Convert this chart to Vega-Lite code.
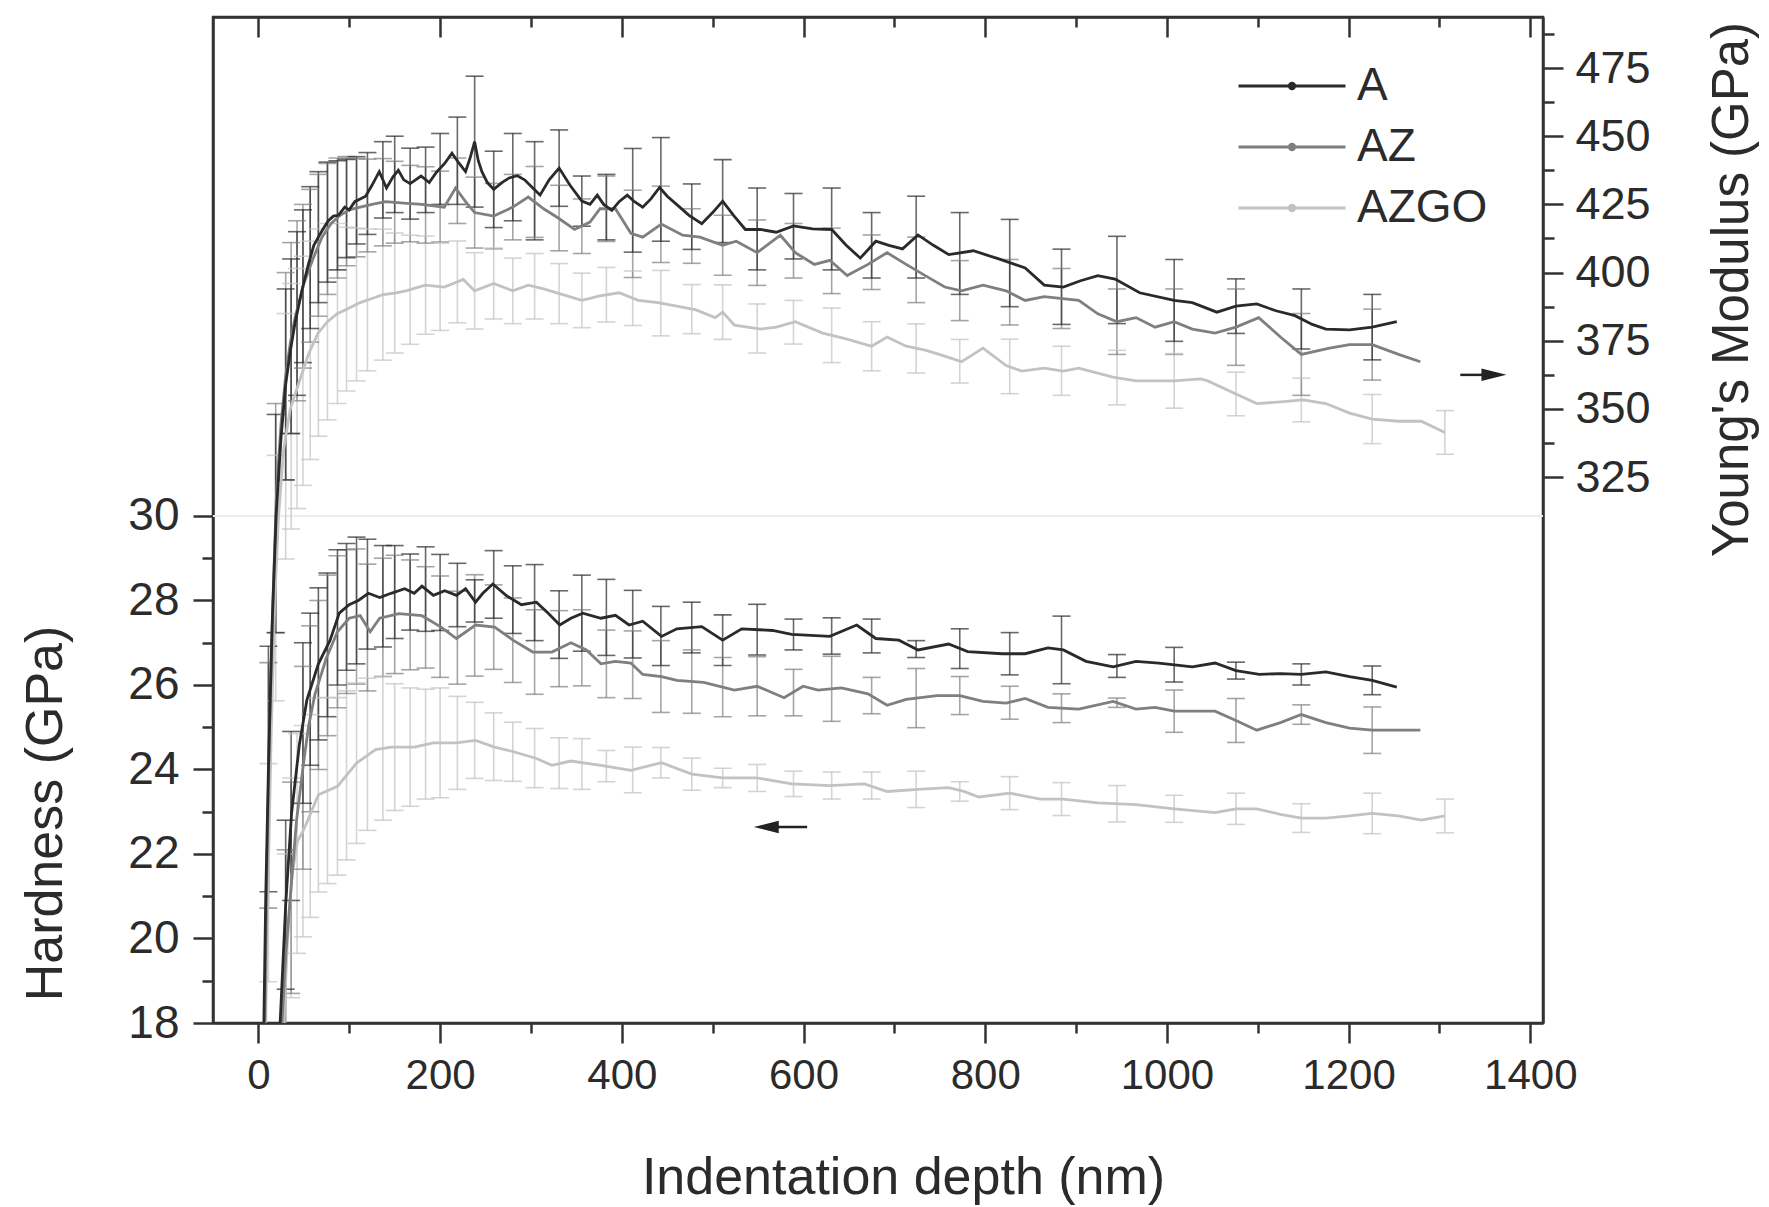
{
 "$schema": "https://vega.github.io/schema/vega-lite/v6.json",
 "width": 1330, "height": 1006,
 "autosize": "none",
 "padding": {"left": 213, "top": 17, "right": 226, "bottom": 184},
 "background": "white",
 "config": {
  "view": {"stroke": "#333333", "strokeWidth": 2.5},
  "axis": {"labelFont": "Liberation Sans", "titleFont": "Liberation Sans", "labelColor": "#2b2b2b", "titleColor": "#2b2b2b", "titleFontWeight": "normal", "domainColor": "#333333", "tickColor": "#333333", "domainWidth": 2.5, "tickWidth": 2.5, "grid": false, "labelOverlap": false, "labelFlush": false, "labelBound": false, "labelFontSize": 42, "titleFontSize": 52},
  "legend": {"orient": "none", "legendX": 1013, "legendY": 46, "title": null, "labelFontSize": 46, "labelFont": "Liberation Sans", "labelColor": "#2b2b2b", "symbolType": "M-5,0H5M-0.25,0A0.25,0.25 0 1,0 0.25,0A0.25,0.25 0 1,0 -0.25,0", "symbolSize": 458, "symbolStrokeWidth": 3, "symbolOpacity": 1, "symbolOffset": 43, "labelOffset": 42, "rowPadding": 15, "padding": 0}
 },
 "datasets": {
  "hard": [
   {"s":"AZGO","d":28,"v":18},{"s":"AZGO","d":32,"v":20.0},{"s":"AZGO","d":37,"v":21.5},{"s":"AZGO","d":43,"v":22.3},{"s":"AZGO","d":49,"v":22.54},{"s":"AZGO","d":53.4,"v":22.75},{"s":"AZGO","d":66,"v":23.4},{"s":"AZGO","d":87,"v":23.6},{"s":"AZGO","d":108,"v":24.15},{"s":"AZGO","d":129,"v":24.47},{"s":"AZGO","d":146,"v":24.53},{"s":"AZGO","d":171.5,"v":24.53},{"s":"AZGO","d":192.6,"v":24.63},{"s":"AZGO","d":218,"v":24.63},{"s":"AZGO","d":239,"v":24.69},{"s":"AZGO","d":260,"v":24.53},{"s":"AZGO","d":281,"v":24.42},{"s":"AZGO","d":306,"v":24.26},{"s":"AZGO","d":323,"v":24.1},{"s":"AZGO","d":344,"v":24.2},{"s":"AZGO","d":377,"v":24.1},{"s":"AZGO","d":410,"v":23.98},{"s":"AZGO","d":443.7,"v":24.16},{"s":"AZGO","d":477,"v":23.89},{"s":"AZGO","d":511,"v":23.8},{"s":"AZGO","d":549,"v":23.8},{"s":"AZGO","d":587,"v":23.66},{"s":"AZGO","d":629,"v":23.62},{"s":"AZGO","d":667,"v":23.66},{"s":"AZGO","d":692,"v":23.48},{"s":"AZGO","d":726,"v":23.53},{"s":"AZGO","d":759.7,"v":23.57},{"s":"AZGO","d":776.6,"v":23.48},{"s":"AZGO","d":793,"v":23.35},{"s":"AZGO","d":827,"v":23.44},{"s":"AZGO","d":861,"v":23.3},{"s":"AZGO","d":886,"v":23.3},{"s":"AZGO","d":924,"v":23.21},{"s":"AZGO","d":966,"v":23.17},{"s":"AZGO","d":1008,"v":23.07},{"s":"AZGO","d":1053,"v":22.98},{"s":"AZGO","d":1076,"v":23.07},{"s":"AZGO","d":1099,"v":23.07},{"s":"AZGO","d":1125,"v":22.94},{"s":"AZGO","d":1148,"v":22.85},{"s":"AZGO","d":1175,"v":22.85},{"s":"AZGO","d":1201,"v":22.9},{"s":"AZGO","d":1226,"v":22.96},{"s":"AZGO","d":1255,"v":22.9},{"s":"AZGO","d":1280,"v":22.8},{"s":"AZGO","d":1306,"v":22.9},
   {"s":"AZ","d":26,"v":18},{"s":"AZ","d":30,"v":19.6},{"s":"AZ","d":36.5,"v":21.36},{"s":"AZ","d":42,"v":22.8},{"s":"AZ","d":49,"v":24.04},{"s":"AZ","d":55,"v":25.0},{"s":"AZ","d":62,"v":25.76},{"s":"AZ","d":74.5,"v":26.62},{"s":"AZ","d":87,"v":27.26},{"s":"AZ","d":99.8,"v":27.58},{"s":"AZ","d":112,"v":27.64},{"s":"AZ","d":123,"v":27.26},{"s":"AZ","d":133.5,"v":27.58},{"s":"AZ","d":154.6,"v":27.69},{"s":"AZ","d":180,"v":27.64},{"s":"AZ","d":201,"v":27.37},{"s":"AZ","d":218,"v":27.1},{"s":"AZ","d":239,"v":27.42},{"s":"AZ","d":260,"v":27.37},{"s":"AZ","d":281,"v":27.05},{"s":"AZ","d":302,"v":26.78},{"s":"AZ","d":323,"v":26.78},{"s":"AZ","d":344,"v":27.0},{"s":"AZ","d":361,"v":26.83},{"s":"AZ","d":377,"v":26.5},{"s":"AZ","d":393,"v":26.56},{"s":"AZ","d":410,"v":26.52},{"s":"AZ","d":423,"v":26.25},{"s":"AZ","d":443.7,"v":26.2},{"s":"AZ","d":460.6,"v":26.11},{"s":"AZ","d":490,"v":26.06},{"s":"AZ","d":524,"v":25.88},{"s":"AZ","d":549,"v":25.97},{"s":"AZ","d":578.6,"v":25.7},{"s":"AZ","d":599.6,"v":25.97},{"s":"AZ","d":616,"v":25.88},{"s":"AZ","d":641.7,"v":25.93},{"s":"AZ","d":671,"v":25.79},{"s":"AZ","d":692,"v":25.52},{"s":"AZ","d":713,"v":25.66},{"s":"AZ","d":747,"v":25.75},{"s":"AZ","d":772,"v":25.75},{"s":"AZ","d":797.6,"v":25.61},{"s":"AZ","d":823,"v":25.57},{"s":"AZ","d":844,"v":25.68},{"s":"AZ","d":869,"v":25.47},{"s":"AZ","d":903,"v":25.43},{"s":"AZ","d":940.8,"v":25.61},{"s":"AZ","d":966,"v":25.43},{"s":"AZ","d":987,"v":25.47},{"s":"AZ","d":1008,"v":25.38},{"s":"AZ","d":1053,"v":25.38},{"s":"AZ","d":1076,"v":25.16},{"s":"AZ","d":1099,"v":24.93},{"s":"AZ","d":1125,"v":25.11},{"s":"AZ","d":1148,"v":25.3},{"s":"AZ","d":1175,"v":25.11},{"s":"AZ","d":1201,"v":24.98},{"s":"AZ","d":1226,"v":24.93},{"s":"AZ","d":1255,"v":24.93},{"s":"AZ","d":1279,"v":24.93},
   {"s":"A","d":23.9,"v":18},{"s":"A","d":30,"v":20.8},{"s":"A","d":36.5,"v":22.97},{"s":"A","d":45,"v":24.58},{"s":"A","d":53.4,"v":25.65},{"s":"A","d":66,"v":26.5},{"s":"A","d":78.7,"v":27.05},{"s":"A","d":89,"v":27.7},{"s":"A","d":99.8,"v":27.9},{"s":"A","d":110,"v":28.0},{"s":"A","d":121,"v":28.17},{"s":"A","d":133.5,"v":28.07},{"s":"A","d":146,"v":28.17},{"s":"A","d":161,"v":28.28},{"s":"A","d":171.5,"v":28.17},{"s":"A","d":180,"v":28.34},{"s":"A","d":192.6,"v":28.12},{"s":"A","d":205,"v":28.23},{"s":"A","d":218,"v":28.12},{"s":"A","d":228,"v":28.28},{"s":"A","d":239,"v":27.96},{"s":"A","d":247,"v":28.17},{"s":"A","d":258,"v":28.39},{"s":"A","d":272.6,"v":28.12},{"s":"A","d":289.5,"v":27.9},{"s":"A","d":306,"v":27.96},{"s":"A","d":319,"v":27.7},{"s":"A","d":331.7,"v":27.42},{"s":"A","d":344,"v":27.58},{"s":"A","d":357,"v":27.7},{"s":"A","d":377,"v":27.58},{"s":"A","d":393,"v":27.65},{"s":"A","d":408,"v":27.42},{"s":"A","d":423,"v":27.51},{"s":"A","d":443.7,"v":27.15},{"s":"A","d":460.6,"v":27.33},{"s":"A","d":488,"v":27.38},{"s":"A","d":511,"v":27.06},{"s":"A","d":532,"v":27.33},{"s":"A","d":566,"v":27.29},{"s":"A","d":587,"v":27.2},{"s":"A","d":629,"v":27.15},{"s":"A","d":658.6,"v":27.42},{"s":"A","d":679.6,"v":27.1},{"s":"A","d":705,"v":27.06},{"s":"A","d":726,"v":26.83},{"s":"A","d":759.7,"v":26.97},{"s":"A","d":780.7,"v":26.79},{"s":"A","d":818.6,"v":26.74},{"s":"A","d":844,"v":26.74},{"s":"A","d":869,"v":26.88},{"s":"A","d":886,"v":26.83},{"s":"A","d":911,"v":26.56},{"s":"A","d":940.8,"v":26.43},{"s":"A","d":966,"v":26.56},{"s":"A","d":991,"v":26.52},{"s":"A","d":1028,"v":26.43},{"s":"A","d":1053,"v":26.52},{"s":"A","d":1076,"v":26.34},{"s":"A","d":1101.7,"v":26.25},{"s":"A","d":1125,"v":26.27},{"s":"A","d":1148,"v":26.25},{"s":"A","d":1175,"v":26.31},{"s":"A","d":1201,"v":26.2},{"s":"A","d":1226,"v":26.11},{"s":"A","d":1253,"v":25.95}
  ],
  "mod": [
   {"s":"AZGO","d":8,"v":125},{"s":"AZGO","d":10,"v":165},{"s":"AZGO","d":14,"v":230},{"s":"AZGO","d":18,"v":280},{"s":"AZGO","d":22,"v":310},{"s":"AZGO","d":27.7,"v":335},{"s":"AZGO","d":35,"v":350},{"s":"AZGO","d":44.6,"v":359.6},{"s":"AZGO","d":55,"v":370},{"s":"AZGO","d":65.6,"v":377.8},{"s":"AZGO","d":76,"v":382},{"s":"AZGO","d":86.7,"v":384.9},{"s":"AZGO","d":100,"v":387},{"s":"AZGO","d":112,"v":389},{"s":"AZGO","d":125,"v":390.5},{"s":"AZGO","d":137,"v":391.9},{"s":"AZGO","d":150,"v":392.5},{"s":"AZGO","d":162.5,"v":393.3},{"s":"AZGO","d":183.6,"v":395.4},{"s":"AZGO","d":204.5,"v":394.7},{"s":"AZGO","d":225.6,"v":397.5},{"s":"AZGO","d":238,"v":393.3},{"s":"AZGO","d":259,"v":396},{"s":"AZGO","d":280,"v":393.3},{"s":"AZGO","d":297,"v":395.4},{"s":"AZGO","d":314,"v":394},{"s":"AZGO","d":335,"v":391.9},{"s":"AZGO","d":356,"v":389.8},{"s":"AZGO","d":376,"v":391.5},{"s":"AZGO","d":397,"v":392.6},{"s":"AZGO","d":418,"v":389.8},{"s":"AZGO","d":439.6,"v":389},{"s":"AZGO","d":460.6,"v":387.7},{"s":"AZGO","d":481.7,"v":386.3},{"s":"AZGO","d":502.7,"v":383.5},{"s":"AZGO","d":511,"v":385.5},{"s":"AZGO","d":524,"v":380.7},{"s":"AZGO","d":553,"v":379.3},{"s":"AZGO","d":570,"v":380},{"s":"AZGO","d":591,"v":382},{"s":"AZGO","d":621,"v":377.8},{"s":"AZGO","d":646,"v":375.8},{"s":"AZGO","d":675,"v":373},{"s":"AZGO","d":692,"v":376.4},{"s":"AZGO","d":713,"v":373},{"s":"AZGO","d":734,"v":371.6},{"s":"AZGO","d":755.5,"v":369.4},{"s":"AZGO","d":774,"v":367.3},{"s":"AZGO","d":797.6,"v":372.3},{"s":"AZGO","d":823,"v":365.9},{"s":"AZGO","d":840,"v":363.9},{"s":"AZGO","d":865,"v":365},{"s":"AZGO","d":886,"v":363.9},{"s":"AZGO","d":903,"v":365},{"s":"AZGO","d":940.6,"v":361.7},{"s":"AZGO","d":966,"v":360.3},{"s":"AZGO","d":1008,"v":360.3},{"s":"AZGO","d":1037,"v":361},{"s":"AZGO","d":1045,"v":360.3},{"s":"AZGO","d":1076,"v":355.5},{"s":"AZGO","d":1099,"v":352},{"s":"AZGO","d":1125,"v":352.6},{"s":"AZGO","d":1150,"v":353.3},{"s":"AZGO","d":1175,"v":352},{"s":"AZGO","d":1201,"v":348.5},{"s":"AZGO","d":1226,"v":346.3},{"s":"AZGO","d":1255,"v":345.5},{"s":"AZGO","d":1280,"v":345.5},{"s":"AZGO","d":1306,"v":341.4},
   {"s":"AZ","d":7,"v":125},{"s":"AZ","d":9,"v":175},{"s":"AZ","d":12,"v":230},{"s":"AZ","d":16,"v":280},{"s":"AZ","d":20,"v":320},{"s":"AZ","d":25,"v":345},{"s":"AZ","d":30,"v":362},{"s":"AZ","d":35,"v":374},{"s":"AZ","d":40,"v":383},{"s":"AZ","d":50,"v":396},{"s":"AZ","d":60,"v":405},{"s":"AZ","d":70,"v":413},{"s":"AZ","d":80,"v":418},{"s":"AZ","d":90,"v":421},{"s":"AZ","d":100,"v":423},{"s":"AZ","d":112,"v":424},{"s":"AZ","d":125,"v":425},{"s":"AZ","d":140,"v":426},{"s":"AZ","d":160,"v":425.5},{"s":"AZ","d":180,"v":425},{"s":"AZ","d":204.5,"v":424},{"s":"AZ","d":217,"v":431},{"s":"AZ","d":228,"v":426},{"s":"AZ","d":238,"v":422},{"s":"AZ","d":259,"v":420.7},{"s":"AZ","d":280,"v":424},{"s":"AZ","d":297,"v":427.7},{"s":"AZ","d":314,"v":423.4},{"s":"AZ","d":330,"v":420},{"s":"AZ","d":348,"v":415.8},{"s":"AZ","d":365,"v":418.5},{"s":"AZ","d":376,"v":423.4},{"s":"AZ","d":393,"v":423.4},{"s":"AZ","d":410,"v":414.4},{"s":"AZ","d":423,"v":413},{"s":"AZ","d":443.5,"v":417.8},{"s":"AZ","d":467,"v":413.7},{"s":"AZ","d":486,"v":413},{"s":"AZ","d":511,"v":410},{"s":"AZ","d":526,"v":411.5},{"s":"AZ","d":549,"v":407.3},{"s":"AZ","d":574.5,"v":413.7},{"s":"AZ","d":591,"v":407.3},{"s":"AZ","d":612,"v":403},{"s":"AZ","d":629,"v":404.5},{"s":"AZ","d":648,"v":398.9},{"s":"AZ","d":671,"v":403},{"s":"AZ","d":692,"v":407.3},{"s":"AZ","d":713,"v":403},{"s":"AZ","d":734,"v":398.9},{"s":"AZ","d":755.5,"v":394.7},{"s":"AZ","d":774,"v":393.3},{"s":"AZ","d":797.6,"v":395.4},{"s":"AZ","d":823,"v":393.3},{"s":"AZ","d":844,"v":389.8},{"s":"AZ","d":865,"v":391.2},{"s":"AZ","d":903,"v":389.8},{"s":"AZ","d":924,"v":384.9},{"s":"AZ","d":945,"v":382},{"s":"AZ","d":966,"v":383.5},{"s":"AZ","d":987,"v":380},{"s":"AZ","d":1008,"v":382},{"s":"AZ","d":1028,"v":379.3},{"s":"AZ","d":1053,"v":377.8},{"s":"AZ","d":1076,"v":380},{"s":"AZ","d":1101,"v":383.5},{"s":"AZ","d":1125,"v":376.4},{"s":"AZ","d":1148,"v":370},{"s":"AZ","d":1179,"v":372.3},{"s":"AZ","d":1201,"v":373.6},{"s":"AZ","d":1226,"v":373.6},{"s":"AZ","d":1255,"v":370},{"s":"AZ","d":1279,"v":367.3},
   {"s":"A","d":6,"v":125},{"s":"A","d":8,"v":170},{"s":"A","d":11,"v":218},{"s":"A","d":15,"v":270},{"s":"A","d":19.5,"v":311},{"s":"A","d":25,"v":340},{"s":"A","d":30,"v":359},{"s":"A","d":35,"v":371},{"s":"A","d":40,"v":381},{"s":"A","d":45,"v":389},{"s":"A","d":49,"v":395},{"s":"A","d":55,"v":403},{"s":"A","d":61,"v":410},{"s":"A","d":66,"v":413},{"s":"A","d":72,"v":416.4},{"s":"A","d":77,"v":419},{"s":"A","d":82.5,"v":420.7},{"s":"A","d":88,"v":421},{"s":"A","d":95,"v":424},{"s":"A","d":100,"v":423},{"s":"A","d":106,"v":426},{"s":"A","d":112,"v":427},{"s":"A","d":118,"v":428},{"s":"A","d":125,"v":432},{"s":"A","d":133,"v":437},{"s":"A","d":141,"v":431},{"s":"A","d":148,"v":435},{"s":"A","d":154,"v":437.5},{"s":"A","d":160,"v":434},{"s":"A","d":167,"v":432.6},{"s":"A","d":173,"v":434},{"s":"A","d":179,"v":435.4},{"s":"A","d":188,"v":433},{"s":"A","d":196,"v":436.8},{"s":"A","d":205,"v":440},{"s":"A","d":213,"v":443.8},{"s":"A","d":221,"v":440},{"s":"A","d":228,"v":437},{"s":"A","d":233,"v":442},{"s":"A","d":238,"v":448},{"s":"A","d":242,"v":441},{"s":"A","d":246,"v":437},{"s":"A","d":252,"v":433},{"s":"A","d":259,"v":430.5},{"s":"A","d":268,"v":433},{"s":"A","d":276,"v":434.7},{"s":"A","d":285,"v":435.5},{"s":"A","d":293,"v":434},{"s":"A","d":302,"v":431},{"s":"A","d":310,"v":428.4},{"s":"A","d":320,"v":434},{"s":"A","d":331,"v":438.3},{"s":"A","d":343,"v":432},{"s":"A","d":356,"v":426.2},{"s":"A","d":365,"v":425},{"s":"A","d":373,"v":428.4},{"s":"A","d":380,"v":425},{"s":"A","d":389,"v":422.8},{"s":"A","d":397,"v":426},{"s":"A","d":406,"v":428.4},{"s":"A","d":414,"v":426},{"s":"A","d":423,"v":424},{"s":"A","d":432,"v":427},{"s":"A","d":441.6,"v":431.2},{"s":"A","d":450,"v":428},{"s":"A","d":460.6,"v":424.9},{"s":"A","d":474,"v":421},{"s":"A","d":488,"v":417.9},{"s":"A","d":500,"v":422},{"s":"A","d":511,"v":426.2},{"s":"A","d":523,"v":421},{"s":"A","d":536,"v":415.8},{"s":"A","d":553,"v":415.8},{"s":"A","d":570,"v":414.8},{"s":"A","d":589,"v":417.1},{"s":"A","d":610,"v":416},{"s":"A","d":631,"v":415.8},{"s":"A","d":647,"v":410},{"s":"A","d":662.5,"v":405.3},{"s":"A","d":679.6,"v":411.5},{"s":"A","d":694,"v":410},{"s":"A","d":709,"v":408.7},{"s":"A","d":726,"v":413.8},{"s":"A","d":743,"v":410},{"s":"A","d":760,"v":406.6},{"s":"A","d":787,"v":408},{"s":"A","d":815,"v":405},{"s":"A","d":844,"v":401.7},{"s":"A","d":865,"v":395.4},{"s":"A","d":886,"v":394.7},{"s":"A","d":905,"v":397},{"s":"A","d":924,"v":398.9},{"s":"A","d":943,"v":397.6},{"s":"A","d":970,"v":392.6},{"s":"A","d":1008,"v":389.8},{"s":"A","d":1028,"v":389},{"s":"A","d":1055,"v":385.5},{"s":"A","d":1076,"v":387.7},{"s":"A","d":1099,"v":388.5},{"s":"A","d":1120,"v":386},{"s":"A","d":1141,"v":384.2},{"s":"A","d":1160,"v":381},{"s":"A","d":1175,"v":379.3},{"s":"A","d":1201,"v":379},{"s":"A","d":1226,"v":380},{"s":"A","d":1253,"v":382}
  ],
  "herr": [
   {"s":"AZGO","d":30,"lo":17.0,"hi":22.0},{"s":"AZGO","d":36,"lo":18.6,"hi":23.8},{"s":"AZGO","d":42.5,"lo":19.65,"hi":24.85},{"s":"AZGO","d":49,"lo":20.04,"hi":25.04},{"s":"AZGO","d":57,"lo":20.5,"hi":25.3},{"s":"AZGO","d":66,"lo":21.1,"hi":25.7},{"s":"AZGO","d":76,"lo":21.3,"hi":25.7},{"s":"AZGO","d":87,"lo":21.5,"hi":25.7},{"s":"AZGO","d":97,"lo":21.86,"hi":25.86},{"s":"AZGO","d":108,"lo":22.25,"hi":26.05},{"s":"AZGO","d":120,"lo":22.56,"hi":26.16},{"s":"AZGO","d":137,"lo":22.8,"hi":26.2},{"s":"AZGO","d":150,"lo":23.03,"hi":26.03},{"s":"AZGO","d":167,"lo":23.13,"hi":25.93},{"s":"AZGO","d":184,"lo":23.3,"hi":25.9},{"s":"AZGO","d":200,"lo":23.33,"hi":25.93},{"s":"AZGO","d":219,"lo":23.53,"hi":25.73},{"s":"AZGO","d":238,"lo":23.79,"hi":25.59},{"s":"AZGO","d":259,"lo":23.74,"hi":25.34},{"s":"AZGO","d":280,"lo":23.72,"hi":25.12},{"s":"AZGO","d":304,"lo":23.57,"hi":24.97},{"s":"AZGO","d":331,"lo":23.55,"hi":24.75},{"s":"AZGO","d":356,"lo":23.53,"hi":24.73},{"s":"AZGO","d":383,"lo":23.71,"hi":24.45},{"s":"AZGO","d":412,"lo":23.45,"hi":24.53},{"s":"AZGO","d":443,"lo":23.8,"hi":24.52},{"s":"AZGO","d":477,"lo":23.51,"hi":24.27},{"s":"AZGO","d":511,"lo":23.57,"hi":24.03},{"s":"AZGO","d":549,"lo":23.48,"hi":24.12},{"s":"AZGO","d":589,"lo":23.36,"hi":23.96},{"s":"AZGO","d":631,"lo":23.3,"hi":23.94},{"s":"AZGO","d":675,"lo":23.3,"hi":23.94},{"s":"AZGO","d":724,"lo":23.1,"hi":23.96},{"s":"AZGO","d":772,"lo":23.25,"hi":23.71},{"s":"AZGO","d":827,"lo":23.05,"hi":23.83},{"s":"AZGO","d":884,"lo":22.91,"hi":23.69},{"s":"AZGO","d":945,"lo":22.76,"hi":23.62},{"s":"AZGO","d":1008,"lo":22.75,"hi":23.39},{"s":"AZGO","d":1076,"lo":22.7,"hi":23.44},{"s":"AZGO","d":1148,"lo":22.51,"hi":23.19},{"s":"AZGO","d":1226,"lo":22.48,"hi":23.44},{"s":"AZGO","d":1306,"lo":22.5,"hi":23.3},
   {"s":"AZ","d":30,"lo":17.1,"hi":22.1},{"s":"AZ","d":36,"lo":18.7,"hi":23.7},{"s":"AZ","d":49,"lo":21.64,"hi":26.44},{"s":"AZ","d":57,"lo":23.0,"hi":27.4},{"s":"AZ","d":66,"lo":24.0,"hi":28.0},{"s":"AZ","d":76,"lo":24.8,"hi":28.6},{"s":"AZ","d":87,"lo":25.46,"hi":29.06},{"s":"AZ","d":97,"lo":25.8,"hi":29.2},{"s":"AZ","d":108,"lo":26.02,"hi":29.22},{"s":"AZ","d":120,"lo":25.86,"hi":28.86},{"s":"AZ","d":137,"lo":26.2,"hi":29.0},{"s":"AZ","d":150,"lo":26.27,"hi":29.07},{"s":"AZ","d":167,"lo":26.36,"hi":28.96},{"s":"AZ","d":184,"lo":26.4,"hi":28.8},{"s":"AZ","d":200,"lo":26.18,"hi":28.58},{"s":"AZ","d":219,"lo":26.02,"hi":28.22},{"s":"AZ","d":238,"lo":26.21,"hi":28.61},{"s":"AZ","d":259,"lo":26.37,"hi":28.37},{"s":"AZ","d":280,"lo":26.06,"hi":28.06},{"s":"AZ","d":304,"lo":25.78,"hi":27.78},{"s":"AZ","d":331,"lo":25.96,"hi":27.76},{"s":"AZ","d":356,"lo":25.98,"hi":27.78},{"s":"AZ","d":383,"lo":25.7,"hi":27.3},{"s":"AZ","d":412,"lo":25.68,"hi":27.28},{"s":"AZ","d":443,"lo":25.35,"hi":27.05},{"s":"AZ","d":477,"lo":25.33,"hi":26.83},{"s":"AZ","d":511,"lo":25.25,"hi":26.65},{"s":"AZ","d":549,"lo":25.27,"hi":26.67},{"s":"AZ","d":589,"lo":25.27,"hi":26.37},{"s":"AZ","d":631,"lo":25.14,"hi":26.68},{"s":"AZ","d":675,"lo":25.32,"hi":26.18},{"s":"AZ","d":724,"lo":24.99,"hi":26.39},{"s":"AZ","d":772,"lo":25.3,"hi":26.2},{"s":"AZ","d":827,"lo":25.19,"hi":25.97},{"s":"AZ","d":884,"lo":25.11,"hi":25.79},{"s":"AZ","d":945,"lo":25.47,"hi":25.69},{"s":"AZ","d":1008,"lo":24.88,"hi":25.88},{"s":"AZ","d":1076,"lo":24.64,"hi":25.68},{"s":"AZ","d":1148,"lo":25.07,"hi":25.53},{"s":"AZ","d":1226,"lo":24.38,"hi":25.48},
   {"s":"A","d":30,"lo":18.8,"hi":22.8},{"s":"A","d":36,"lo":20.9,"hi":24.9},{"s":"A","d":49,"lo":23.2,"hi":27.0},{"s":"A","d":57,"lo":24.1,"hi":27.7},{"s":"A","d":66,"lo":24.7,"hi":28.3},{"s":"A","d":76,"lo":25.25,"hi":28.65},{"s":"A","d":87,"lo":26.0,"hi":29.2},{"s":"A","d":97,"lo":26.35,"hi":29.35},{"s":"A","d":108,"lo":26.5,"hi":29.5},{"s":"A","d":120,"lo":26.85,"hi":29.45},{"s":"A","d":137,"lo":26.9,"hi":29.3},{"s":"A","d":150,"lo":27.1,"hi":29.3},{"s":"A","d":167,"lo":27.3,"hi":29.1},{"s":"A","d":184,"lo":27.27,"hi":29.27},{"s":"A","d":200,"lo":27.29,"hi":29.09},{"s":"A","d":219,"lo":27.38,"hi":28.88},{"s":"A","d":238,"lo":27.49,"hi":28.49},{"s":"A","d":259,"lo":27.58,"hi":29.18},{"s":"A","d":280,"lo":27.22,"hi":28.82},{"s":"A","d":304,"lo":27.05,"hi":28.85},{"s":"A","d":331,"lo":26.63,"hi":28.23},{"s":"A","d":356,"lo":26.8,"hi":28.6},{"s":"A","d":383,"lo":26.7,"hi":28.5},{"s":"A","d":412,"lo":26.64,"hi":28.24},{"s":"A","d":443,"lo":26.46,"hi":27.86},{"s":"A","d":477,"lo":26.76,"hi":27.96},{"s":"A","d":511,"lo":26.46,"hi":27.66},{"s":"A","d":549,"lo":26.71,"hi":27.91},{"s":"A","d":589,"lo":26.83,"hi":27.56},{"s":"A","d":631,"lo":26.73,"hi":27.59},{"s":"A","d":675,"lo":26.76,"hi":27.56},{"s":"A","d":724,"lo":26.65,"hi":27.05},{"s":"A","d":772,"lo":26.39,"hi":27.33},{"s":"A","d":827,"lo":26.24,"hi":27.24},{"s":"A","d":884,"lo":26.03,"hi":27.63},{"s":"A","d":945,"lo":26.18,"hi":26.72},{"s":"A","d":1008,"lo":26.07,"hi":26.89},{"s":"A","d":1076,"lo":26.14,"hi":26.54},{"s":"A","d":1148,"lo":26.0,"hi":26.5},{"s":"A","d":1226,"lo":25.77,"hi":26.45}
  ],
  "merr": [
   {"s":"AZGO","d":11,"lo":140,"hi":220},{"s":"AZGO","d":19,"lo":243,"hi":333},{"s":"AZGO","d":30,"lo":295,"hi":385},{"s":"AZGO","d":36,"lo":306,"hi":396},{"s":"AZGO","d":42.5,"lo":313.5,"hi":401.5},{"s":"AZGO","d":49,"lo":322,"hi":406},{"s":"AZGO","d":57,"lo":331.5,"hi":411.5},{"s":"AZGO","d":66,"lo":340,"hi":416},{"s":"AZGO","d":76,"lo":346,"hi":418},{"s":"AZGO","d":87,"lo":352,"hi":418},{"s":"AZGO","d":97,"lo":356.6,"hi":416.6},{"s":"AZGO","d":108,"lo":360.3,"hi":416.3},{"s":"AZGO","d":120,"lo":364,"hi":416},{"s":"AZGO","d":137,"lo":367.9,"hi":415.9},{"s":"AZGO","d":150,"lo":370.5,"hi":414.5},{"s":"AZGO","d":167,"lo":373.7,"hi":413.7},{"s":"AZGO","d":184,"lo":377.4,"hi":413.4},{"s":"AZGO","d":200,"lo":378.8,"hi":410.8},{"s":"AZGO","d":219,"lo":381.6,"hi":411.6},{"s":"AZGO","d":238,"lo":379.3,"hi":407.3},{"s":"AZGO","d":259,"lo":383,"hi":409},{"s":"AZGO","d":280,"lo":381.3,"hi":405.3},{"s":"AZGO","d":304,"lo":383,"hi":407},{"s":"AZGO","d":331,"lo":381.3,"hi":403.3},{"s":"AZGO","d":356,"lo":379.8,"hi":399.8},{"s":"AZGO","d":383,"lo":381.9,"hi":401.9},{"s":"AZGO","d":412,"lo":380.6,"hi":400.6},{"s":"AZGO","d":443,"lo":376.8,"hi":400.8},{"s":"AZGO","d":477,"lo":377.6,"hi":395.6},{"s":"AZGO","d":511,"lo":375.5,"hi":395.5},{"s":"AZGO","d":549,"lo":370.5,"hi":388.5},{"s":"AZGO","d":589,"lo":373.8,"hi":389.8},{"s":"AZGO","d":631,"lo":367,"hi":387},{"s":"AZGO","d":675,"lo":364,"hi":382},{"s":"AZGO","d":724,"lo":363.2,"hi":381.2},{"s":"AZGO","d":772,"lo":359.5,"hi":375.5},{"s":"AZGO","d":827,"lo":355.6,"hi":375.6},{"s":"AZGO","d":884,"lo":355,"hi":373},{"s":"AZGO","d":945,"lo":351.5,"hi":371.5},{"s":"AZGO","d":1008,"lo":350.3,"hi":370.3},{"s":"AZGO","d":1076,"lo":347.5,"hi":363.5},{"s":"AZGO","d":1148,"lo":345.3,"hi":361.3},{"s":"AZGO","d":1226,"lo":337.3,"hi":355.3},{"s":"AZGO","d":1306,"lo":333.4,"hi":349.4},
   {"s":"AZ","d":11,"lo":167,"hi":257},{"s":"AZ","d":19,"lo":268,"hi":352},{"s":"AZ","d":30,"lo":324,"hi":400},{"s":"AZ","d":36,"lo":341,"hi":411},{"s":"AZ","d":42.5,"lo":353,"hi":419},{"s":"AZ","d":49,"lo":365,"hi":425},{"s":"AZ","d":57,"lo":374.5,"hi":430.5},{"s":"AZ","d":66,"lo":384,"hi":436},{"s":"AZ","d":76,"lo":392,"hi":440},{"s":"AZ","d":87,"lo":398,"hi":442},{"s":"AZ","d":97,"lo":402.5,"hi":442.5},{"s":"AZ","d":108,"lo":405.8,"hi":441.8},{"s":"AZ","d":120,"lo":407.6,"hi":441.6},{"s":"AZ","d":137,"lo":409.8,"hi":441.8},{"s":"AZ","d":150,"lo":410.8,"hi":440.8},{"s":"AZ","d":167,"lo":411.3,"hi":439.3},{"s":"AZ","d":184,"lo":410.8,"hi":438.8},{"s":"AZ","d":200,"lo":411.2,"hi":437.2},{"s":"AZ","d":219,"lo":418,"hi":442},{"s":"AZ","d":238,"lo":409,"hi":435},{"s":"AZ","d":259,"lo":408.7,"hi":432.7},{"s":"AZ","d":280,"lo":412,"hi":436},{"s":"AZ","d":304,"lo":412.9,"hi":438.9},{"s":"AZ","d":331,"lo":408,"hi":432},{"s":"AZ","d":356,"lo":407,"hi":427},{"s":"AZ","d":383,"lo":411.4,"hi":435.4},{"s":"AZ","d":412,"lo":398.2,"hi":430.2},{"s":"AZ","d":443,"lo":403.7,"hi":431.7},{"s":"AZ","d":477,"lo":403.4,"hi":423.4},{"s":"AZ","d":511,"lo":399,"hi":421},{"s":"AZ","d":549,"lo":395.3,"hi":419.3},{"s":"AZ","d":589,"lo":398,"hi":418},{"s":"AZ","d":631,"lo":392.3,"hi":416.3},{"s":"AZ","d":675,"lo":393.8,"hi":413.8},{"s":"AZ","d":724,"lo":389,"hi":413},{"s":"AZ","d":772,"lo":382.4,"hi":404.4},{"s":"AZ","d":827,"lo":380.8,"hi":404.8},{"s":"AZ","d":884,"lo":379.5,"hi":401.5},{"s":"AZ","d":945,"lo":370,"hi":394},{"s":"AZ","d":1008,"lo":370,"hi":394},{"s":"AZ","d":1076,"lo":366,"hi":394},{"s":"AZ","d":1148,"lo":355,"hi":385},{"s":"AZ","d":1226,"lo":360.6,"hi":386.6},
   {"s":"A","d":11,"lo":173,"hi":263},{"s":"A","d":19,"lo":268,"hi":348},{"s":"A","d":30,"lo":324,"hi":394},{"s":"A","d":36,"lo":341,"hi":405},{"s":"A","d":42.5,"lo":355,"hi":415},{"s":"A","d":49,"lo":367,"hi":423},{"s":"A","d":57,"lo":379.5,"hi":431.5},{"s":"A","d":66,"lo":389,"hi":437},{"s":"A","d":76,"lo":396.5,"hi":440.5},{"s":"A","d":87,"lo":401,"hi":441},{"s":"A","d":97,"lo":405.5,"hi":441.5},{"s":"A","d":108,"lo":410.5,"hi":442.5},{"s":"A","d":120,"lo":414,"hi":444},{"s":"A","d":137,"lo":420,"hi":448},{"s":"A","d":150,"lo":422,"hi":450},{"s":"A","d":167,"lo":419.6,"hi":445.6},{"s":"A","d":184,"lo":422,"hi":446},{"s":"A","d":200,"lo":425,"hi":451},{"s":"A","d":219,"lo":425,"hi":457},{"s":"A","d":238,"lo":424,"hi":472},{"s":"A","d":259,"lo":416.5,"hi":444.5},{"s":"A","d":280,"lo":419,"hi":451},{"s":"A","d":304,"lo":412,"hi":448},{"s":"A","d":331,"lo":424.3,"hi":452.3},{"s":"A","d":356,"lo":417,"hi":435.4},{"s":"A","d":383,"lo":412,"hi":436},{"s":"A","d":412,"lo":407.5,"hi":445.5},{"s":"A","d":443,"lo":411.5,"hi":449.5},{"s":"A","d":477,"lo":408.5,"hi":432.5},{"s":"A","d":511,"lo":411,"hi":441.4},{"s":"A","d":549,"lo":401,"hi":431},{"s":"A","d":589,"lo":405,"hi":429},{"s":"A","d":631,"lo":401,"hi":431},{"s":"A","d":675,"lo":398,"hi":422},{"s":"A","d":724,"lo":398,"hi":428},{"s":"A","d":772,"lo":392,"hi":422},{"s":"A","d":827,"lo":387.5,"hi":419.5},{"s":"A","d":884,"lo":381,"hi":408.6},{"s":"A","d":945,"lo":381.3,"hi":413.3},{"s":"A","d":1008,"lo":374.8,"hi":404.8},{"s":"A","d":1076,"lo":377.7,"hi":397.7},{"s":"A","d":1148,"lo":372,"hi":394},{"s":"A","d":1226,"lo":368,"hi":392}
  ],
  "arrows": [
   {"x1":1323,"x2":1352,"hx":1360,"y":33.34,"dir":"r"},
   {"x1":566,"x2":604,"hx":559,"y":22.64,"dir":"l"}
  ],
  "sep": [{"h":30}]
 },
 "resolve": {"scale": {"y": "independent"}, "axis": {"x": "independent"}},
 "layer": [
  {
   "layer": [
    {
     "data": {"name": "herr"},
     "mark": {"type": "rule", "strokeWidth": 1.6, "opacity": 0.7, "clip": true},
     "encoding": {
      "x": {"field": "d", "type": "quantitative", "scale": {"domain": [-50, 1414], "nice": false, "zero": false},
            "axis": {"orient": "bottom", "values": [0,100,200,300,400,500,600,700,800,900,1000,1100,1200,1300,1400], "format": "d",
                     "labelExpr": "datum.value % 200 == 0 ? datum.label : ''",
                     "tickSize": {"condition": {"test": "datum.value % 200 != 0", "value": 10}, "value": 20},
                     "labelFontSize": 42, "labelPadding": 12, "title": "Indentation depth (nm)", "titleX": 690, "titleY": 154, "titleBaseline": "middle", "titleAlign": "center"}},
      "y": {"field": "lo", "type": "quantitative", "scale": {"domain": [18, 41.81], "nice": false, "zero": false},
            "axis": {"orient": "left", "values": [18,19,20,21,22,23,24,25,26,27,28,29,30], "format": "d",
                     "labelExpr": "datum.value % 2 == 0 ? datum.label : ''",
                     "tickSize": {"condition": {"test": "datum.value % 2 != 0", "value": 11}, "value": 20},
                     "labelFontSize": 46, "labelPadding": 14, "title": "Hardness (GPa)", "titleAngle": -90, "titleX": -168, "titleY": 796, "titleBaseline": "middle", "titleAlign": "center"}},
      "y2": {"field": "hi"},
      "color": {"field": "s", "type": "nominal", "scale": {"domain": ["A","AZ","AZGO"], "range": ["#2a2a2a","#7f7f7f","#c2c2c2"]}}
     }
    },
    {
     "data": {"name": "sep"},
     "mark": {"type": "rule", "color": "#ededed", "strokeWidth": 2},
     "encoding": {"y": {"field": "h", "type": "quantitative"}}
    },
    {
     "data": {"name": "herr"},
     "mark": {"type": "tick", "orient": "horizontal", "size": 18, "thickness": 1.6, "opacity": 0.7, "clip": true},
     "encoding": {
      "x": {"field": "d", "type": "quantitative"},
      "y": {"field": "lo", "type": "quantitative"},
      "color": {"field": "s", "type": "nominal"}
     }
    },
    {
     "data": {"name": "herr"},
     "mark": {"type": "tick", "orient": "horizontal", "size": 18, "thickness": 1.6, "opacity": 0.7, "clip": true},
     "encoding": {
      "x": {"field": "d", "type": "quantitative"},
      "y": {"field": "hi", "type": "quantitative"},
      "color": {"field": "s", "type": "nominal"}
     }
    },
    {
     "data": {"name": "hard"},
     "mark": {"type": "line", "strokeWidth": 2.8, "clip": true},
     "encoding": {
      "x": {"field": "d", "type": "quantitative"},
      "y": {"field": "v", "type": "quantitative"},
      "color": {"field": "s", "type": "nominal"}
     }
    },
    {
     "data": {"name": "arrows"},
     "mark": {"type": "rule", "color": "#222222", "strokeWidth": 2.5},
     "encoding": {
      "x": {"field": "x1", "type": "quantitative"},
      "x2": {"field": "x2"},
      "y": {"field": "y", "type": "quantitative"}
     }
    },
    {
     "data": {"name": "arrows"},
     "mark": {"type": "point", "filled": true, "color": "#222222", "size": 625, "opacity": 1},
     "encoding": {
      "x": {"field": "hx", "type": "quantitative"},
      "y": {"field": "y", "type": "quantitative"},
      "shape": {"field": "dir", "type": "nominal", "scale": {"domain": ["r","l"], "range": ["M-1,-0.5L1,0L-1,0.5Z","M1,-0.5L-1,0L1,0.5Z"]}, "legend": null}
     }
    }
   ]
  },
  {
   "layer": [
    {
     "data": {"name": "merr"},
     "mark": {"type": "rule", "strokeWidth": 1.6, "opacity": 0.7, "clip": true},
     "encoding": {
      "x": {"field": "d", "type": "quantitative",
            "axis": {"orient": "top", "values": [0,100,200,300,400,500,600,700,800,900,1000,1100,1200,1300,1400], "labels": false, "title": null,
                     "tickSize": {"condition": {"test": "datum.value % 200 != 0", "value": -10}, "value": -20}}},
      "y": {"field": "lo", "type": "quantitative", "scale": {"domain": [124.9, 493.7], "nice": false, "zero": false},
            "axis": {"orient": "right", "values": [325,337.5,350,362.5,375,387.5,400,412.5,425,437.5,450,462.5,475,487.5], "format": "d",
                     "labelExpr": "datum.value % 25 == 0 ? datum.label : ''",
                     "tickSize": {"condition": {"test": "datum.value % 25 != 0", "value": 11}, "value": 20},
                     "labelFontSize": 45, "labelPadding": 12, "title": "Young's Modulus (GPa)", "titleFontSize": 51, "titleAngle": -90, "titleX": 189, "titleY": 272, "titleBaseline": "middle", "titleAlign": "center"}},
      "y2": {"field": "hi"},
      "color": {"field": "s", "type": "nominal"}
     }
    },
    {
     "data": {"name": "merr"},
     "mark": {"type": "tick", "orient": "horizontal", "size": 18, "thickness": 1.6, "opacity": 0.7, "clip": true},
     "encoding": {
      "x": {"field": "d", "type": "quantitative"},
      "y": {"field": "lo", "type": "quantitative"},
      "color": {"field": "s", "type": "nominal"}
     }
    },
    {
     "data": {"name": "merr"},
     "mark": {"type": "tick", "orient": "horizontal", "size": 18, "thickness": 1.6, "opacity": 0.7, "clip": true},
     "encoding": {
      "x": {"field": "d", "type": "quantitative"},
      "y": {"field": "hi", "type": "quantitative"},
      "color": {"field": "s", "type": "nominal"}
     }
    },
    {
     "data": {"name": "mod"},
     "mark": {"type": "line", "strokeWidth": 2.8, "clip": true},
     "encoding": {
      "x": {"field": "d", "type": "quantitative"},
      "y": {"field": "v", "type": "quantitative"},
      "color": {"field": "s", "type": "nominal"}
     }
    }
   ]
  }
 ]
}
